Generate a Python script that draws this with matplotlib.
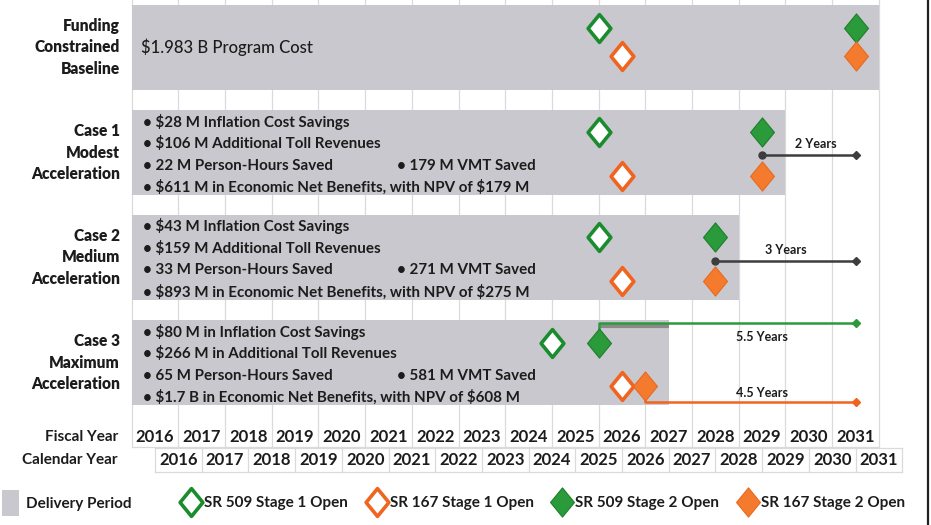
import matplotlib
matplotlib.use("Agg")
import matplotlib.pyplot as plt
from matplotlib.path import Path
from matplotlib.lines import Line2D
from matplotlib.patches import Patch

plt.rcParams["text.parse_math"] = False

# ---------------- data ----------------
row_labels = ["Funding\nConstrained\nBaseline",
              "Case 1\nModest\nAcceleration",
              "Case 2\nMedium\nAcceleration",
              "Case 3\nMaximum\nAcceleration"]
delivery_start = [2015.5, 2015.5, 2015.5, 2015.5]
delivery_end = [2031.5, 2029.5, 2028.5, 2027.0]
sr509_stage1 = [2025.5, 2025.5, 2025.5, 2024.5]
sr167_stage1 = [2026.0, 2026.0, 2026.0, 2026.0]
sr509_stage2 = [2031.0, 2029.0, 2028.0, 2025.5]
sr167_stage2 = [2031.0, 2029.0, 2028.0, 2026.5]
baseline_stage2 = 2031.0

baseline_text = "$1.983 B Program Cost"
benefit_lines = [
    [],
    ["$28 M Inflation Cost Savings", "$106 M Additional Toll Revenues",
     "22 M Person-Hours Saved", "$611 M in Economic Net Benefits, with NPV of $179 M"],
    ["$43 M Inflation Cost Savings", "$159 M Additional Toll Revenues",
     "33 M Person-Hours Saved", "$893 M in Economic Net Benefits, with NPV of $275 M"],
    ["$80 M in Inflation Cost Savings", "$266 M in Additional Toll Revenues",
     "65 M Person-Hours Saved", "$1.7 B in Economic Net Benefits, with NPV of $608 M"],
]
vmt_saved = [None, "179 M VMT Saved", "271 M VMT Saved", "581 M VMT Saved"]
acceleration_labels = [None, "2 Years", "3 Years", "5.5 Years", "4.5 Years"]

fiscal_years = list(range(2016, 2032))
calendar_years = list(range(2016, 2032))

legend_labels = ["Delivery Period", "SR 509 Stage 1 Open", "SR 167 Stage 1 Open",
                 "SR 509 Stage 2 Open", "SR 167 Stage 2 Open"]

# ---------------- style ----------------
FONT = "Lato"
BAR = "#c9c8ce"
GREEN = "#1a8c2e"
GREEN_F = "#2a9a3a"
ORANGE = "#f1641f"
ORANGE_F = "#f47b2e"
DARK = "#3d3d3d"
GRID = "#dadada"
TXT = "#1c1c1c"

W, H = 931, 525
PX_PER_YEAR = 46.7
ROW_PX = 105.0
ROW0_PX = 47.5

fig = plt.figure(figsize=(W / 100, H / 100), dpi=100)
ax = fig.add_axes([0, 0, 1, 1])
ax.set_xlim(2016 - 155 / PX_PER_YEAR, 2016 + (W - 155) / PX_PER_YEAR)
ax.set_ylim((H - ROW0_PX) / ROW_PX, -ROW0_PX / ROW_PX)
ax.axis("off")


def py(px):
    """pixel offset -> row units"""
    return px / ROW_PX


def tx(px):
    """pixel column -> time units"""
    return 2016 + (px - 155) / PX_PER_YEAR


y_top = -ROW0_PX / ROW_PX
fiscal_y = py(437 - ROW0_PX)
fiscal_bottom = py(447 - ROW0_PX)
cal_y = py(460 - ROW0_PX)
cal_top = py(448 - ROW0_PX)
cal_bottom = py(472 - ROW0_PX)

# grid
for b in range(fiscal_years[0], fiscal_years[-1] + 2):
    ax.plot([b - 0.5, b - 0.5], [y_top, fiscal_bottom], color=GRID, lw=0.9, zorder=0)
ax.plot([fiscal_years[0] - 0.5, fiscal_years[-1] + 0.5], [fiscal_bottom, fiscal_bottom],
        color=GRID, lw=0.9, zorder=0)
for b in range(calendar_years[0], calendar_years[-1] + 2):
    ax.plot([b, b], [cal_top, cal_bottom], color=GRID, lw=0.9, zorder=0)
for yy in (cal_top, cal_bottom):
    ax.plot([calendar_years[0], calendar_years[-1] + 1], [yy, yy], color=GRID, lw=0.9, zorder=0)

# bars
rows = list(range(len(row_labels)))
ax.barh(rows, [e - s for s, e in zip(delivery_start, delivery_end)], left=delivery_start,
        height=py(85), color=BAR, zorder=1)

# diamond marker
dia = Path([(0, 1), (0.82, 0), (0, -1), (-0.82, 0), (0, 1)],
           [Path.MOVETO, Path.LINETO, Path.LINETO, Path.LINETO, Path.CLOSEPOLY])

off509 = [py(-20), py(-21), py(-21), py(-20)]
off167 = [py(8.5), py(23), py(23), py(23)]
y509 = [r + o for r, o in zip(rows, off509)]
y167 = [r + o for r, o in zip(rows, off167)]

# acceleration lines
line_off = [None, py(2), py(3), py(-39.5), py(39.5)]
label_pos_x = [None, tx(816), tx(786), tx(762), tx(762)]
label_dy = [None, py(-11), py(-11), py(14), py(-9)]
LBL = dict(ha="center", va="center", fontsize=9, fontweight="bold", family=FONT,
           color=TXT, zorder=4)
for i in (1, 2):
    yl = rows[i] + line_off[i]
    ax.plot([sr509_stage2[i], baseline_stage2], [yl, yl], color=DARK, lw=1.8, zorder=3)
    ax.plot([sr509_stage2[i]], [yl], marker="o", ms=5, color=DARK, zorder=3)
    ax.plot([baseline_stage2], [yl], marker="D", ms=4.5, color=DARK, zorder=3)
    ax.text(label_pos_x[i], yl + label_dy[i], acceleration_labels[i], **LBL)
# case 3: separate lines for each route
i = 3
yg = rows[i] + line_off[3]
yo = rows[i] + line_off[4]
ax.plot([sr509_stage2[i], sr509_stage2[i], baseline_stage2], [y509[i], yg, yg],
        color=GREEN_F, lw=1.8, zorder=3)
ax.plot([sr509_stage2[i], delivery_end[i]], [yg + py(3), yg + py(3)], color="#8a8a8a",
        lw=3, zorder=2, solid_capstyle="butt")
ax.plot([baseline_stage2], [yg], marker="D", ms=4.5, color=GREEN_F, zorder=3)
ax.plot([sr167_stage2[i], sr167_stage2[i], baseline_stage2], [y167[i], yo, yo],
        color=ORANGE, lw=1.8, zorder=3)
ax.plot([baseline_stage2], [yo], marker="D", ms=4.5, color=ORANGE, zorder=3)
ax.text(label_pos_x[3], yg + label_dy[3], acceleration_labels[3], **LBL)
ax.text(label_pos_x[4], yo + label_dy[4], acceleration_labels[4], **LBL)

# milestone markers
ax.plot(sr509_stage1, y509, ls="none", marker=dia, ms=20, mfc="white", mec=GREEN, mew=2.6, zorder=5)
ax.plot(sr167_stage1, y167, ls="none", marker=dia, ms=20, mfc="white", mec=ORANGE, mew=2.6, zorder=5)
ax.plot(sr509_stage2, y509, ls="none", marker=dia, ms=21, mfc=GREEN_F, mec="#1d7f2c", mew=0.8, zorder=5)
ax.plot(sr167_stage2, y167, ls="none", marker=dia, ms=21, mfc=ORANGE_F, mec="#e8691f", mew=0.8, zorder=5)

# row labels
for r, lab in zip(rows, row_labels):
    ax.text(tx(120), r, lab, ha="right", va="center", fontsize=11.2, fontweight="heavy",
            family=FONT, color=TXT, linespacing=1.45)

# bar texts
ax.text(tx(141), rows[0], baseline_text, ha="left", va="center", fontsize=12,
        family=FONT, color=TXT, fontweight="medium")
bullet_off = [py(-31), py(-9), py(13), py(35)]
for r in rows[1:]:
    for k, line in enumerate(benefit_lines[r]):
        ax.text(tx(143), r + bullet_off[k], "\u2022 " + line, ha="left", va="center",
                fontsize=10.9, family=FONT, color=TXT, fontweight="bold")
    ax.text(tx(397), r + bullet_off[2], "\u2022 " + vmt_saved[r], ha="left", va="center",
            fontsize=10.9, family=FONT, color=TXT, fontweight="bold")

# axis rows
ax.text(tx(118), fiscal_y, "Fiscal Year", ha="right", va="center", fontsize=11,
        fontweight="bold", family=FONT, color=TXT)
ax.text(tx(118), cal_y, "Calendar Year", ha="right", va="center", fontsize=11,
        fontweight="bold", family=FONT, color=TXT)
for fy in fiscal_years:
    ax.text(fy, fiscal_y, str(fy), ha="center", va="center", fontsize=12,
            fontweight="bold", family=FONT, color=TXT)
for cy in calendar_years:
    ax.text(cy + 0.5, cal_y, str(cy), ha="center", va="center", fontsize=12,
            fontweight="bold", family=FONT, color=TXT)

# right border
ax.plot([tx(928)] * 2, [y_top, ax.get_ylim()[0]], color="#222222", lw=1.6)

# legends
leg1 = fig.legend(handles=[Patch(facecolor=BAR, edgecolor="none")], labels=[legend_labels[0]],
                  loc="center left", bbox_to_anchor=(2 / W, 1 - 503 / H), frameon=False,
                  borderpad=0, borderaxespad=0, handlelength=1.1, handleheight=2.3,
                  handletextpad=0.45, prop={"family": FONT, "weight": "bold", "size": 11})
for t in leg1.get_texts():
    t.set_color(TXT)
h2 = [Line2D([], [], ls="none", marker=dia, ms=20, mfc="white", mec=GREEN, mew=2.6),
      Line2D([], [], ls="none", marker=dia, ms=20, mfc="white", mec=ORANGE, mew=2.6),
      Line2D([], [], ls="none", marker=dia, ms=21, mfc=GREEN_F, mec="#1d7f2c", mew=0.8),
      Line2D([], [], ls="none", marker=dia, ms=21, mfc=ORANGE_F, mec="#e8691f", mew=0.8)]
leg2 = fig.legend(handles=h2, labels=legend_labels[1:], loc="center left",
                  bbox_to_anchor=(179 / W, 1 - 503 / H), ncol=4, frameon=False,
                  borderpad=0, borderaxespad=0, handlelength=1.6, handletextpad=0.05,
                  columnspacing=1.07, prop={"family": FONT, "weight": "bold", "size": 11})
for t in leg2.get_texts():
    t.set_color(TXT)

fig.savefig("out.png", dpi=100)
